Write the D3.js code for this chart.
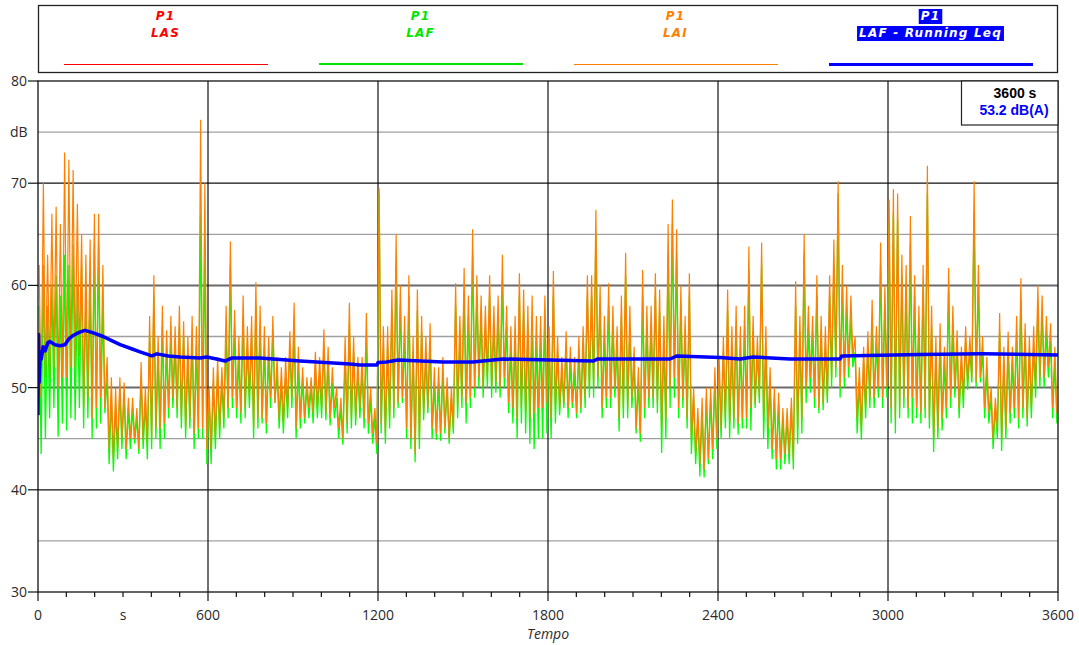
<!DOCTYPE html>
<html>
<head>
<meta charset="utf-8">
<script src="https://cdn.jsdelivr.net/npm/d3@7/dist/d3.min.js"></script>
<style>
  html, body { margin: 0; padding: 0; background: #fff; }
  svg { display: block; }
  .tick-label { font-family: "Open Sans", sans-serif; font-size: 14px; fill: #2a2a2a; }
  .legend-text { font-family: "DejaVu Sans", sans-serif; font-size: 12px; font-weight: bold; font-style: italic; letter-spacing: 1.2px; }
  .cursor-text { font-family: "Liberation Sans", Arial, sans-serif; font-size: 14px; font-weight: bold; }
</style>
</head>
<body>
<svg id="chart" width="1079" height="645"></svg>
<script>
// 15 s bins, highest and lowest level seen in each bin (dB)
const binSeconds = 15;

const laiHigh = [
  62, 70, 63, 67, 67.7, 66, 73, 72.3, 71.3, 68, 65, 63, 64.5, 67, 67, 62, 53, 51, 50, 51,
  50.5, 49, 49, 48, 52.5, 50, 57, 61, 55, 58, 55.6, 57, 56, 58, 56.5, 55, 57, 56, 76.2, 70,
  50, 52, 53, 52, 58, 64.3, 57.6, 55, 59, 56, 57, 60.3, 58, 56, 55, 57, 53, 52, 53, 55.5,
  58.3, 54, 52, 51, 51, 53.5, 53, 55.7, 54, 52, 50, 49, 55, 58.3, 55, 53, 53, 57.3, 50, 48,
  69.5, 56, 56, 59.6, 65, 60, 57, 61, 55, 59.6, 57, 55, 56.3, 52, 52, 53, 51, 50, 60.2, 57,
  61.7, 59, 65.5, 61, 59, 58, 61, 58, 59, 63, 58, 56, 57, 61.2, 59.6, 58, 59, 57, 57, 59,
  56, 61.4, 55, 53, 55.5, 54, 53, 55, 56, 61, 61, 67.4, 60, 57, 60.2, 58, 56, 59, 63.2, 58,
  54, 52, 61.5, 58, 58, 61.2, 59.6, 57, 66, 68.4, 65.5, 60, 57, 61.2, 50, 48, 49, 50, 50, 52,
  53, 55, 59.6, 56, 58, 56, 58, 63.8, 57, 55, 64.2, 56, 52, 50, 49.5, 48, 48, 49, 60.4, 57,
  65, 58, 57, 61, 57, 56, 61, 64.5, 70.2, 62, 60, 59, 55, 52, 54, 55.5, 58.6, 56, 64.2, 60,
  68.4, 69.4, 69, 63, 62, 66.8, 61, 58, 62, 71.7, 58, 55, 56.3, 54, 61.7, 58, 55.6, 54, 56, 55,
  70.2, 62, 55, 53, 50, 49, 57.3, 54, 55.5, 54, 57, 60.7, 56.3, 55, 56, 60, 59, 57, 56.3, 54
];

const laiLow = [
  49, 51, 51, 52, 50, 51, 51, 52, 52, 53, 48, 49, 47, 48, 49, 48, 44, 43, 44, 45,
  44, 45, 45, 44, 45, 44.5, 45, 46, 46, 46.5, 48, 49, 48, 47, 46, 47, 45.5, 46, 46, 44,
  44, 45, 46, 47, 48, 49, 48, 47.5, 48, 49, 46, 47, 47, 46.5, 49, 48.5, 47, 46.5, 48, 49,
  46, 47, 47, 48, 47.5, 48, 48, 47.5, 47, 48, 46, 45, 46.5, 47, 47, 48, 47, 46.5, 45.5, 44.5,
  46.5, 45.5, 47, 48, 48.5, 49, 46, 45, 43.5, 45, 47.5, 48, 46, 45.5, 45.5, 46, 45, 46, 48, 49,
  48.5, 49, 50, 51, 50, 51, 50, 50.5, 50, 51, 48.5, 48, 47, 48, 47.5, 47, 47.5, 48, 48, 48.5,
  47, 48, 48, 48.5, 48, 48.5, 47.5, 48, 49, 50, 50, 51, 48, 49, 49, 50, 47, 48, 48, 49,
  46, 45.5, 48, 49, 49, 48.5, 46, 47, 50, 51, 48, 49, 47, 45, 43.5, 42.5, 42, 43, 44, 45,
  46, 47, 46.5, 47, 46.5, 47, 47, 48, 48.5, 49, 47, 46, 44, 43, 43, 43.5, 43.5, 43, 46, 47,
  50, 51, 49, 48, 48.5, 49, 51, 52, 50, 51, 52, 53, 47, 46, 48, 49, 49, 50, 49, 50,
  48, 47, 48, 49, 48, 49, 48, 47.5, 48, 47, 45, 46, 47, 48, 49, 50, 48, 49, 50.5, 51,
  50.5, 51, 48, 47.5, 45, 46, 45, 46, 47.5, 48, 47, 48, 47, 48, 50, 51, 51, 52, 48, 47.5
];

const lafHigh = [
  58, 62, 58, 60, 61, 59, 63, 62, 64, 60, 62, 59, 60, 64, 64, 58, 51, 49, 48, 50,
  49.5, 48, 48, 47, 51, 48.5, 55, 59, 53, 56, 54, 55, 54, 56, 55, 53, 55, 54, 67, 64,
  49, 50.5, 51.5, 50.5, 55, 62, 56, 53, 57, 54, 55, 58, 56, 54, 53, 55.5, 51.5, 50.5, 51, 54,
  56, 52, 51, 50, 50, 52, 51.5, 54, 52.5, 50.5, 49, 48, 53, 56, 53.5, 51.5, 51.5, 55, 49, 47,
  69, 54, 54, 57.5, 62, 58, 55, 59, 53.5, 57.5, 55.5, 53, 54.5, 50.5, 50.5, 51.5, 50, 49, 58, 55,
  59.5, 57, 63, 59, 57, 56, 59, 56, 57, 60.5, 56, 54, 55, 59, 57.5, 56, 57, 55, 55, 57,
  54, 59, 53.5, 51.5, 54, 52.5, 51.5, 53.5, 54, 59, 59, 65, 58, 55, 58, 56, 54, 57, 61, 56,
  52.5, 50.5, 59, 56, 56, 59, 57.5, 55, 63, 66, 63, 58, 55, 59, 49, 47, 47.5, 49, 49, 50.5,
  51.5, 53.5, 57.5, 54, 56, 54, 56, 61.5, 55.5, 53.5, 62, 54, 50.5, 49, 48.5, 47, 47, 48, 58, 55.5,
  63, 56, 55.5, 59, 55.5, 54, 59, 62, 69, 60, 58, 57, 53.5, 50.5, 52.5, 54, 56.5, 54.5, 62, 58,
  66, 67, 66.5, 61, 60, 64, 59, 56, 60, 69, 56, 53.5, 54.5, 52.5, 59.5, 56, 54, 52.5, 54.5, 53.5,
  67, 60, 53.5, 51.5, 49, 48, 55.5, 52.5, 54, 52.5, 55.5, 58.5, 54.5, 53.5, 54, 58, 57.5, 55.5, 54.5, 52.5
];

const lafLow = [
  43.5, 45, 47, 48, 45.2, 46.5, 45.8, 47, 46.8, 48, 46, 47, 45, 46, 46.5, 47.5, 42.5, 41.8, 43, 44,
  43, 44, 44.5, 43.5, 44, 43, 44, 45, 44, 45, 47, 48, 47, 46, 45, 46, 44, 45, 45, 42.5,
  42.5, 44, 45, 46, 47, 48, 47, 46.5, 47, 48, 45, 46, 46.5, 45.5, 48, 48.5, 46, 45.5, 47, 48,
  45, 46, 46.5, 47, 46.5, 47, 47, 46.8, 46.3, 47, 45, 44.4, 45.5, 46, 46.3, 47, 46, 45.5, 44.5, 43.5,
  45.5, 44.5, 46, 47, 48, 48.5, 45, 44, 42.7, 44, 46.8, 47.5, 45, 44.9, 44.8, 45.5, 44.5, 45.5, 47, 48,
  46.5, 48, 49, 50, 49, 50, 49, 49.5, 49, 50, 47.5, 46.5, 45, 46.5, 45.5, 44.5, 44, 45, 45, 45.5,
  45, 46.5, 47.3, 48, 47, 48, 47, 47.5, 48, 49, 49, 50, 47, 48, 48, 49, 45.7, 47, 47, 48,
  45.5, 44.7, 47, 48, 48, 47.5, 43.6, 45, 48, 49, 47, 48, 46, 43.5, 42.5, 41.3, 41.2, 42.5, 43, 44,
  45, 46, 45, 46, 45.4, 46, 46, 45.8, 48, 48.5, 45, 44, 43, 42, 42, 42.5, 42.5, 42, 44.5, 45.5,
  48.5, 49.5, 48, 47.5, 47.8, 48.5, 50, 51, 49, 50, 51, 52, 45.5, 44.9, 47, 48, 48, 49, 48, 49,
  46.5, 45.5, 47, 48, 47, 46.5, 47, 46.5, 47, 46, 43.7, 45, 45.8, 47, 48, 49, 47, 48, 49.8, 50.5,
  50, 50.5, 47, 46.5, 44, 45, 43.8, 45, 46.5, 47, 46, 47, 46.2, 47, 49, 50, 50, 51, 47, 46.5
];

// LAF running Leq (s, dB)
const leqTimes = [0, 2, 4, 8, 12, 18, 25, 35, 42, 60, 78, 95, 110, 124, 145, 166, 190, 230, 260, 290,
  330, 360, 402, 420, 460, 501, 572, 596, 630, 660, 685, 783, 925, 1100, 1136, 1196, 1200, 1230, 1271, 1429,
  1535, 1641, 1959, 1976, 2231, 2255, 2407, 2478, 2524, 2654, 2831, 2837, 3113, 3335, 3600];
const leqValues = [47.3, 55.2, 50.5, 53.5, 52.8, 54, 53.6, 54.4, 54.5, 54.2, 54.1, 54.2, 54.8, 55.1, 55.4, 55.6, 55.4, 55, 54.6, 54.2,
  53.8, 53.5, 53.1, 53.3, 53.1, 53, 52.9, 53, 52.8, 52.6, 52.9, 52.9, 52.6, 52.3, 52.2, 52.2, 52.45, 52.5, 52.7, 52.5,
  52.5, 52.8, 52.6, 52.8, 52.8, 53.1, 52.95, 52.8, 53, 52.8, 52.8, 53.1, 53.25, 53.3, 53.2];

const yMajorTicks = [30, 40, 50, 60, 70, 80];
const yMinorTicks = [35, 45, 55, 65, 75];
const xMajorTicks = [0, 600, 1200, 1800, 2400, 3000, 3600];
const legendEntries = [
  { top: "P1", name: "LAS", color: "#ff0000", width: 1 },
  { top: "P1", name: "LAF", color: "#00e600", width: 2 },
  { top: "P1", name: "LAI", color: "#ff8000", width: 1 },
  { top: "P1", name: "LAF - Running Leq", color: "#0000ff", width: 3, boxed: true }
];
const cursorTime = "3600 s";
const cursorLevel = "53.2 dB(A)";

document.addEventListener("DOMContentLoaded", () => {
  const svg = d3.select("#chart");
  const left = 38;
  const right = 1058;
  const top = 81;
  const bottom = 592;

  const x = d3.scaleLinear().domain([0, 3600]).range([left, right]);
  const y = d3.scaleLinear().domain([30, 80]).range([bottom, top]);

  svg.append("defs").append("clipPath").attr("id", "plot-clip")
    .append("rect").attr("x", left).attr("y", top).attr("width", right - left).attr("height", bottom - top);

  // grid
  const grid = svg.append("g");
  grid.selectAll(".minor").data(yMinorTicks).join("line")
    .attr("x1", left).attr("x2", right)
    .attr("y1", (d) => y(d)).attr("y2", (d) => y(d))
    .attr("stroke", "#a0a0a0").attr("stroke-width", 1.3);
  grid.selectAll(".major").data(yMajorTicks.filter((d) => d > 30 && d < 80)).join("line")
    .attr("x1", left).attr("x2", right)
    .attr("y1", (d) => y(d)).attr("y2", (d) => y(d))
    .attr("stroke", (d) => (d === 50 || d === 60 ? "#6a6a6a" : "#111"))
    .attr("stroke-width", (d) => (d === 50 || d === 60 ? 2 : 1.2));
  grid.selectAll(".vgrid").data(xMajorTicks.slice(1, -1)).join("line")
    .attr("x1", (d) => x(d)).attr("x2", (d) => x(d))
    .attr("y1", top).attr("y2", bottom)
    .attr("stroke", "#111").attr("stroke-width", 1.2);

  // series drawn as alternating bin maxima / minima
  const zigzag = (highs, lows) => {
    const points = [];
    highs.forEach((h, i) => {
      points.push([i * binSeconds + 4, h]);
      points.push([i * binSeconds + 11, lows[i]]);
    });
    return points;
  };

  const line = d3.line()
    .defined((d) => d[1] != null)
    .x((d) => x(d[0]))
    .y((d) => y(d[1]));
  const plot = svg.append("g").attr("clip-path", "url(#plot-clip)");

  plot.append("path").attr("d", line(zigzag(lafHigh, lafLow)))
    .attr("fill", "none").attr("stroke", "#00ff00").attr("stroke-width", 1.3);
  plot.append("path").attr("d", line(zigzag(laiHigh, laiLow)))
    .attr("fill", "none").attr("stroke", "#ff8000").attr("stroke-width", 1.2);
  plot.append("path").attr("d", line(leqTimes.map((t, i) => [t, leqValues[i]])))
    .attr("fill", "none").attr("stroke", "#0000ff").attr("stroke-width", 3.5).attr("stroke-linejoin", "round");

  // frame
  svg.append("rect").attr("x", left).attr("y", top).attr("width", right - left).attr("height", bottom - top)
    .attr("fill", "none").attr("stroke", "#111").attr("stroke-width", 1.3);

  // y axis
  svg.selectAll(".ytick").data(yMajorTicks).join("line")
    .attr("x1", left - 10).attr("x2", left)
    .attr("y1", (d) => y(d)).attr("y2", (d) => y(d))
    .attr("stroke", "#111").attr("stroke-width", 1.2);
  svg.selectAll(".ylabel").data(yMajorTicks).join("text")
    .attr("class", "tick-label")
    .attr("x", 27).attr("y", (d) => y(d)).attr("dy", "0.35em")
    .attr("text-anchor", "end").text((d) => d);
  svg.append("text").attr("class", "tick-label").attr("x", 10).attr("y", y(75)).attr("dy", "0.35em").text("dB");

  // x axis
  svg.selectAll(".xminor").data(d3.range(0, 3601, 100)).join("line")
    .attr("x1", (d) => x(d)).attr("x2", (d) => x(d))
    .attr("y1", bottom).attr("y2", (d) => (d % 600 === 0 ? bottom + 9 : bottom + 5))
    .attr("stroke", "#111").attr("stroke-width", 1.2);
  svg.selectAll(".xlabel").data(xMajorTicks).join("text")
    .attr("class", "tick-label")
    .attr("x", (d) => x(d)).attr("y", 620)
    .attr("text-anchor", "middle").text((d) => d);
  svg.append("text").attr("class", "tick-label").attr("x", x(300)).attr("y", 620)
    .attr("text-anchor", "middle").text("s");
  svg.append("text").attr("class", "tick-label").attr("x", x(1800)).attr("y", 639)
    .attr("text-anchor", "middle").style("font-style", "italic").text("Tempo");

  // legend
  svg.append("rect").attr("x", 38.5).attr("y", 5.5).attr("width", 1019).attr("height", 67)
    .attr("fill", "#fff").attr("stroke", "#222").attr("stroke-width", 1.3);
  const colWidth = (right - left) / legendEntries.length;
  legendEntries.forEach((entry, i) => {
    const cx = left + colWidth * (i + 0.5);
    const g = svg.append("g");
    const labels = [[entry.top, 20], [entry.name, 37]].map(([txt, yy]) =>
      g.append("text").attr("class", "legend-text")
        .attr("x", cx).attr("y", yy).attr("text-anchor", "middle")
        .attr("fill", entry.boxed ? "#fff" : entry.color).text(txt));
    if (entry.boxed) {
      labels.forEach((label) => {
        const b = label.node().getBBox();
        g.insert("rect", "text").attr("x", b.x - 2).attr("y", b.y).attr("width", b.width + 4).attr("height", b.height + 1)
          .attr("fill", entry.color);
      });
    }
    const ly = entry.width % 2 === 1 ? 64.5 : 64;
    g.append("line").attr("x1", Math.round(cx - 102)).attr("x2", Math.round(cx + 102)).attr("y1", ly).attr("y2", ly)
      .attr("stroke", entry.color).attr("stroke-width", entry.width);
  });

  // cursor readout
  svg.append("rect").attr("x", 961.5).attr("y", top).attr("width", right - 961.5).attr("height", 44)
    .attr("fill", "#fff").attr("stroke", "#222").attr("stroke-width", 1.2);
  svg.append("text").attr("class", "cursor-text").attr("x", 1015).attr("y", 98)
    .attr("text-anchor", "middle").attr("fill", "#000").text(cursorTime);
  svg.append("text").attr("class", "cursor-text").attr("x", 1014).attr("y", 115)
    .attr("text-anchor", "middle").attr("fill", "#0000ff").text(cursorLevel);
});
</script>
</body>
</html>
